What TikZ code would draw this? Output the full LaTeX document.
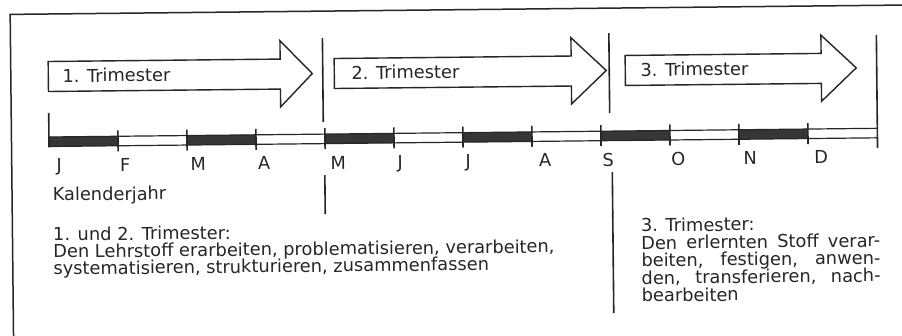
\documentclass[tikz,border=0pt]{standalone}
\usepackage{fontspec}
\setmainfont{DejaVu Sans}
\definecolor{ink}{HTML}{262626}
\definecolor{band}{HTML}{363636}
\newcommand{\blockfont}[1]{\fontsize{17.8}{#1}\selectfont\lineskiplimit=-100pt\lineskip=0pt}
\tikzset{
  frameline/.style={draw=ink, line width=1.5pt},
  trarrow/.style={draw=ink, line width=1.4pt, fill=white, line join=miter},
  divider/.style={draw=ink, line width=1.6pt},
  rail/.style={draw=ink, line width=1.2pt},
  tickmark/.style={draw=ink, line width=1.6pt},
  bandfill/.style={fill=band},
  txt/.style={inner sep=0pt, anchor=base west, text=ink, font=\fontsize{17.8}{21}\selectfont},
  monthlbl/.style={inner sep=0pt, anchor=base, text=ink, font=\fontsize{17.8}{21}\selectfont},
}
\begin{document}
\begin{tikzpicture}[x=1pt,y=1pt]
\useasboundingbox (0,0) rectangle (902,-336);
\fill[white] (0,0) rectangle (902,-336);
\begin{scope}[rotate around={0.6:(49,-142)}, transform shape]
  % frame
  \coordinate (fb) at (11.5,-350);
  \coordinate (fc) at (11.5,-14);
  \coordinate (fr) at (915,-14);
  \draw[frameline] (fb) -- (fc) -- (fr);

  % trimester arrows
  \draw[trarrow] (49,-61.5) -- (281,-61.5) -- (281,-43.2) -- (313,-76.3) -- (281,-109.4) -- (281,-91.5) -- (49,-91.5) -- cycle;
  \draw[trarrow] (335,-61.5) -- (572,-61.5) -- (572,-43.2) -- (607,-76.3) -- (572,-109.4) -- (572,-91.5) -- (335,-91.5) -- cycle;
  \draw[trarrow] (626,-61.5) -- (822,-61.5) -- (822,-43.2) -- (857,-76.3) -- (822,-109.4) -- (822,-91.5) -- (626,-91.5) -- cycle;
  \node[txt] (t1) at (63,-82.5) {1. Trimester};
  \node[txt] (t2) at (352,-82.5) {2. Trimester};
  \node[txt] (t3) at (641,-82.5) {3. Trimester};

  % dividers
  \coordinate (d1a) at (323.5,-41);  \coordinate (d1b) at (323.5,-125);
  \coordinate (d1c) at (324.5,-178); \coordinate (d1d) at (324.5,-217);
  \coordinate (d2a) at (610,-39);    \coordinate (d2b) at (610,-119);
  \coordinate (d2c) at (612,-178);   \coordinate (d2d) at (612,-319);
  \coordinate (d3a) at (877.5,-43.7); \coordinate (d3b) at (877.5,-156.7);
  \draw[divider] (d1a) -- (d1b);
  \draw[divider] (d1c) -- (d1d);
  \draw[divider] (d2a) -- (d2b);
  \draw[divider] (d2c) -- (d2d);
  \draw[divider] (d3a) -- (d3b);

  % timeline
  \foreach \k in {0,2,4,6,8,10} {
    \fill[bandfill] ({49+69*\k},-137) rectangle ({49+69*(\k+1)},-146.5);
  }
  \coordinate (rt0) at (49,-137);    \coordinate (rt1) at (877.5,-137);
  \coordinate (rb0) at (49,-146.5);  \coordinate (rb1) at (877.5,-146.5);
  \draw[rail] (rt0) -- (rt1);
  \draw[rail] (rb0) -- (rb1);
  \coordinate (s0) at (49,-113);
  \coordinate (s1) at (49,-147.5);
  \draw[tickmark] (s0) -- (s1);
  \foreach \k in {1,...,11} {
    \draw[tickmark] ({49+69*\k},-131) -- ({49+69*\k},-152);
  }

  % month labels
  \node[monthlbl] (m1)  at (59,-172)  {J};
  \node[monthlbl] (m2)  at (125,-172) {F};
  \node[monthlbl] (m3)  at (198,-172) {M};
  \node[monthlbl] (m4)  at (264,-172) {A};
  \node[monthlbl] (m5)  at (338,-172) {M};
  \node[monthlbl] (m6)  at (400,-172) {J};
  \node[monthlbl] (m7)  at (468,-172) {J};
  \node[monthlbl] (m8)  at (545,-172) {A};
  \node[monthlbl] (m9)  at (608,-172) {S};
  \node[monthlbl] (m10) at (678,-172) {O};
  \node[monthlbl] (m11) at (750,-172) {N};
  \node[monthlbl] (m12) at (821,-172) {D};

  \node[txt] (kal) at (52,-201) {Kalenderjahr};

  % text block 1
  \node[txt] (blockA) at (52,-241) {\parbox[t]{540pt}{\blockfont{17}%
    1. und 2. Trimester:\\
    Den Lehrstoff erarbeiten, problematisieren, verarbeiten,\\
    systematisieren, strukturieren, zusammenfassen}};

  % text block 2
  \node[txt] (blockB) at (640,-238) {\parbox[t]{239pt}{\blockfont{17.5}%
    3. Trimester:\\
    \makebox[239pt][s]{Den erlernten Stoff verar-}\\
    \makebox[239pt][s]{beiten, festigen, anwen-}\\
    \makebox[239pt][s]{den, transferieren, nach-}\\
    bearbeiten}};
\end{scope}
\end{tikzpicture}
\end{document}
